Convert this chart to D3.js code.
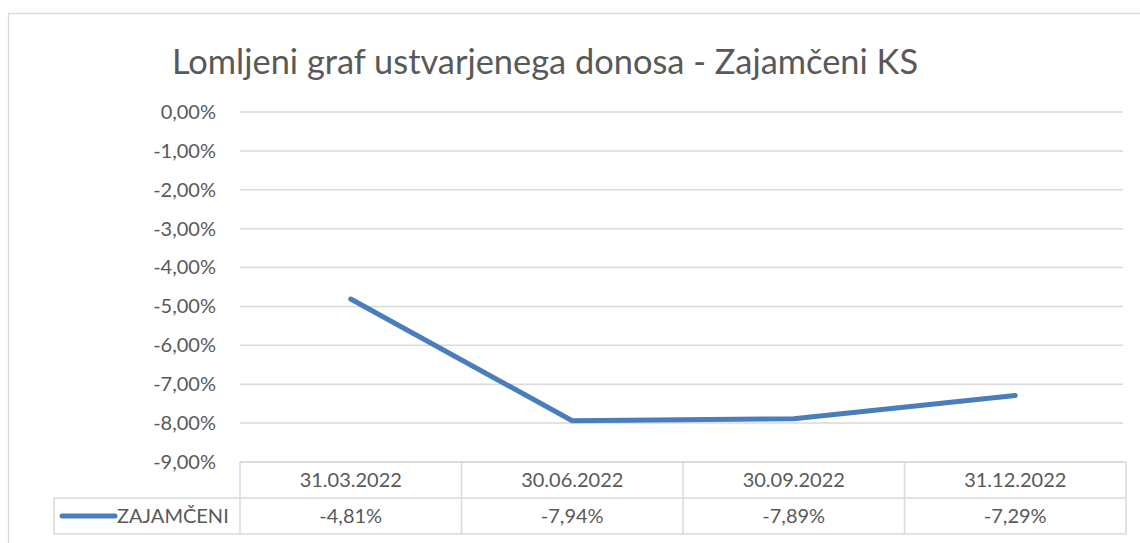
<!DOCTYPE html>
<html>
<head>
<meta charset="utf-8">
<script src="https://cdn.jsdelivr.net/npm/d3@7"></script>
<style>
  body { margin: 0; background: #fff; }
  svg { display: block; }
</style>
</head>
<body>
<svg id="chart"></svg>
<script>
// chart data
var categories = ['31.03.2022', '30.06.2022', '30.09.2022', '31.12.2022'];
var seriesName = 'ZAJAMČENI';
var values = [-4.81, -7.94, -7.89, -7.29];
var yTicks = [0, -1, -2, -3, -4, -5, -6, -7, -8, -9];
var title = 'Lomljeni graf ustvarjenega donosa - Zajamčeni KS';

var W = 1140, H = 543;
var margin = {top: 112, right: 14, bottom: 81, left: 240};
var font = 'Lato, "Open Sans", sans-serif';
var grey = '#595959';
var lineCol = '#d9d9d9';
var blue = '#4a7ebb';

var fmt = function(v) {
  return d3.format('.2f')(v).replace('.', ',').replace('−', '-') + '%';
};

var svg = d3.select('#chart')
  .attr('width', W)
  .attr('height', H);

// chart frame (cut off at right and bottom like the screenshot)
svg.append('rect')
  .attr('x', 8.5).attr('y', 13.5)
  .attr('width', 1150).attr('height', 560)
  .attr('fill', 'none')
  .attr('stroke', lineCol)
  .attr('stroke-width', 1.3);

var xScale = d3.scaleBand()
  .domain(categories)
  .range([margin.left, W - margin.right])
  .padding(0);

var yScale = d3.scaleLinear()
  .domain([-9, 0])
  .range([H - margin.bottom, margin.top]);

// gridlines
svg.append('g')
  .selectAll('line')
  .data(yTicks)
  .enter()
  .append('line')
    .attr('x1', margin.left)
    .attr('x2', W - margin.right - 3)
    .attr('y1', d => yScale(d))
    .attr('y2', d => yScale(d))
    .attr('stroke', lineCol)
    .attr('stroke-width', 1.5);

// y axis labels
var yAxis = d3.axisLeft(yScale)
  .tickValues(yTicks)
  .tickSize(0)
  .tickPadding(24)
  .tickFormat(fmt);

var yg = svg.append('g')
  .attr('transform', 'translate(' + margin.left + ',0)')
  .call(yAxis);
yg.select('.domain').remove();
yg.selectAll('text')
  .style('font-family', font)
  .style('font-size', '20px')
  .attr('fill', grey);

// the line
var line = d3.line()
  .x((d, i) => xScale(categories[i]) + xScale.bandwidth() / 2)
  .y(d => yScale(d));

svg.append('path')
  .datum(values)
  .attr('d', line)
  .attr('fill', 'none')
  .attr('stroke', blue)
  .attr('stroke-width', 5)
  .attr('stroke-linecap', 'round')
  .attr('stroke-linejoin', 'round');

// data table
var tTop = yScale(-9);
var rowH = 36;
var legendX = 54;
var tRight = xScale.range()[1];
var table = svg.append('g');

// horizontal lines
table.append('line')
  .attr('x1', margin.left).attr('x2', tRight)
  .attr('y1', tTop).attr('y2', tTop);
table.append('line')
  .attr('x1', legendX).attr('x2', tRight)
  .attr('y1', tTop + rowH).attr('y2', tTop + rowH);
table.append('line')
  .attr('x1', legendX).attr('x2', tRight)
  .attr('y1', tTop + rowH * 2).attr('y2', tTop + rowH * 2);
// vertical lines
table.append('line')
  .attr('x1', legendX).attr('x2', legendX)
  .attr('y1', tTop + rowH).attr('y2', tTop + rowH * 2);
table.selectAll('.vl')
  .data(categories)
  .enter()
  .append('line')
    .attr('class', 'vl')
    .attr('x1', d => xScale(d)).attr('x2', d => xScale(d))
    .attr('y1', tTop).attr('y2', tTop + rowH * 2);
table.append('line')
  .attr('x1', tRight).attr('x2', tRight)
  .attr('y1', tTop).attr('y2', tTop + rowH * 2);
table.selectAll('line')
  .attr('stroke', lineCol)
  .attr('stroke-width', 1.5);

// header labels
table.selectAll('.hd')
  .data(categories)
  .enter()
  .append('text')
    .attr('x', d => xScale(d) + xScale.bandwidth() / 2)
    .attr('y', tTop + rowH / 2 + 7)
    .attr('text-anchor', 'middle')
    .text(d => d);

// value cells
table.selectAll('.vc')
  .data(values)
  .enter()
  .append('text')
    .attr('x', (d, i) => xScale(categories[i]) + xScale.bandwidth() / 2)
    .attr('y', tTop + rowH * 1.5 + 7)
    .attr('text-anchor', 'middle')
    .text(d => fmt(d));

// legend key
table.append('line')
  .attr('x1', 62).attr('x2', 115)
  .attr('y1', tTop + rowH * 1.5).attr('y2', tTop + rowH * 1.5)
  .attr('stroke', blue)
  .attr('stroke-width', 5)
  .attr('stroke-linecap', 'round');
table.append('text')
  .attr('x', 117)
  .attr('y', tTop + rowH * 1.5 + 7)
  .text(seriesName);

table.selectAll('text')
  .style('font-family', font)
  .style('font-size', '20px')
  .attr('fill', grey);

// title
svg.append('text')
  .attr('x', 545)
  .attr('y', 74)
  .attr('text-anchor', 'middle')
  .style('font-family', font)
  .style('font-size', '34.4px')
  .attr('fill', grey)
  .text(title);
</script>
</body>
</html>
